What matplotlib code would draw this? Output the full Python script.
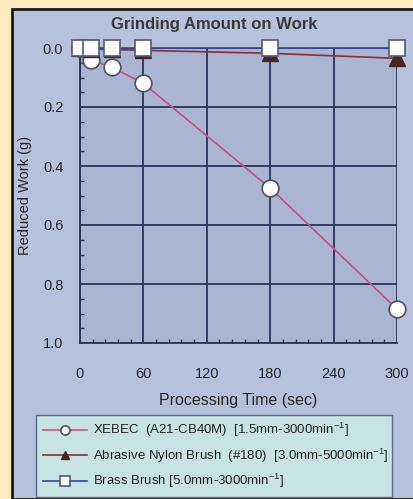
import numpy as np
import matplotlib.pyplot as plt
from matplotlib.patches import Rectangle
from matplotlib.ticker import MultipleLocator

plt.rcParams['font.family'] = ['Liberation Sans', 'DejaVu Sans']
plt.rcParams['mathtext.fontset'] = 'custom'
plt.rcParams['mathtext.rm'] = 'Liberation Sans'

# data
t_xebec = [0, 10, 30, 60, 180, 300]
xebec = [0.0, 0.04, 0.065, 0.12, 0.475, 0.885]

t_nylon = [0, 10, 30, 60, 180, 300]
nylon = [0.0, 0.003, 0.005, 0.008, 0.018, 0.035]

t_brass = [0, 10, 30, 60, 180, 300]
brass = [0.0, 0.0, 0.0, 0.0, 0.0, 0.0]

labels = ['XEBEC  (A21-CB40M)  [1.5mm-3000min$^{-1}$]',
          'Abrasive Nylon Brush  (#180)  [3.0mm-5000min$^{-1}$]',
          'Brass Brush [5.0mm-3000min$^{-1}$]']

W, H = 414, 499
fig = plt.figure(figsize=(W / 100, H / 100), dpi=100)
fig.patch.set_facecolor('#fdeac0')

# outer panel
fig.patches.append(Rectangle((12 / W, 0), 1 - 12 / W, 1 - 9 / H, transform=fig.transFigure,
                             facecolor='#b6c1dc', edgecolor='#1a1a1a', linewidth=2, zorder=-10))

ax = fig.add_axes([80 / W, 1 - 343 / H, 317 / W, 295 / H])
ax.set_facecolor('#a9b5d3')

ln1, = ax.plot(t_xebec, xebec, color='#c8507c', lw=1.2, marker='o', ms=12,
               mfc='white', mec='#505060', mew=1.2, zorder=3, clip_on=False)
ln2, = ax.plot(t_nylon, nylon, color='#8a3028', lw=1.2, marker='^', ms=11,
               mfc='#4a2420', mec='#4a2420', zorder=4, clip_on=False)
ln3, = ax.plot(t_brass, brass, color='#34449a', lw=1.2, marker='s', ms=12,
               mfc='white', mec='#505a80', mew=1.2, zorder=5, clip_on=False)

ax.set_xlim(0, 300)
ax.set_ylim(1.0, 0.0)
ax.set_xticks([0, 60, 120, 180, 240, 300])
ax.set_yticks([0.0, 0.2, 0.4, 0.6, 0.8, 1.0])
ax.set_yticklabels(['0.0', '0.2', '0.4', '0.6', '0.8', '1.0'])
ax.xaxis.set_minor_locator(MultipleLocator(12))
ax.yaxis.set_minor_locator(MultipleLocator(0.05))
ax.grid(True, which='major', color='#27355e', lw=1.3)
ax.tick_params(which='major', length=0, labelsize=10.5, labelcolor='#262626')
ax.tick_params(axis='y', which='major', pad=12)
ax.tick_params(axis='x', which='major', pad=17)
ax.tick_params(which='minor', direction='in', length=3, color='#27355e', width=1)
for s in ['top', 'right']:
    ax.spines[s].set_visible(False)
for s in ['left', 'bottom']:
    ax.spines[s].set_color('#27355e')
    ax.spines[s].set_linewidth(1.3)

ax.set_xlabel('Processing Time (sec)', fontsize=11.5, color='#262626', labelpad=9)
ax.set_ylabel('Reduced Work (g)', fontsize=10.5, color='#262626', labelpad=8)
fig.text((110 + 318) / 2 / W, 1 - 25 / H, 'Grinding Amount on Work', ha='center', va='center',
         fontsize=12, fontweight='bold', color='#3a3a3a')

leg = fig.legend([ln1, ln2, ln3], labels, loc='lower left',
                 bbox_to_anchor=(36 / W, 2 / H, 356 / W, 79 / H), mode='expand',
                 borderaxespad=0, fontsize=9.5, handlelength=3.4, markerscale=0.55,
                 frameon=True, fancybox=False, labelspacing=0.55, borderpad=0.5,
                 handletextpad=0.4)
leg.get_frame().set_facecolor('#c7e3e3')
leg.get_frame().set_edgecolor('#5a6a8a')
leg.get_frame().set_alpha(1)
for txt in leg.get_texts():
    txt.set_color('#222222')

fig.savefig('out.png', dpi=100, facecolor=fig.get_facecolor())
